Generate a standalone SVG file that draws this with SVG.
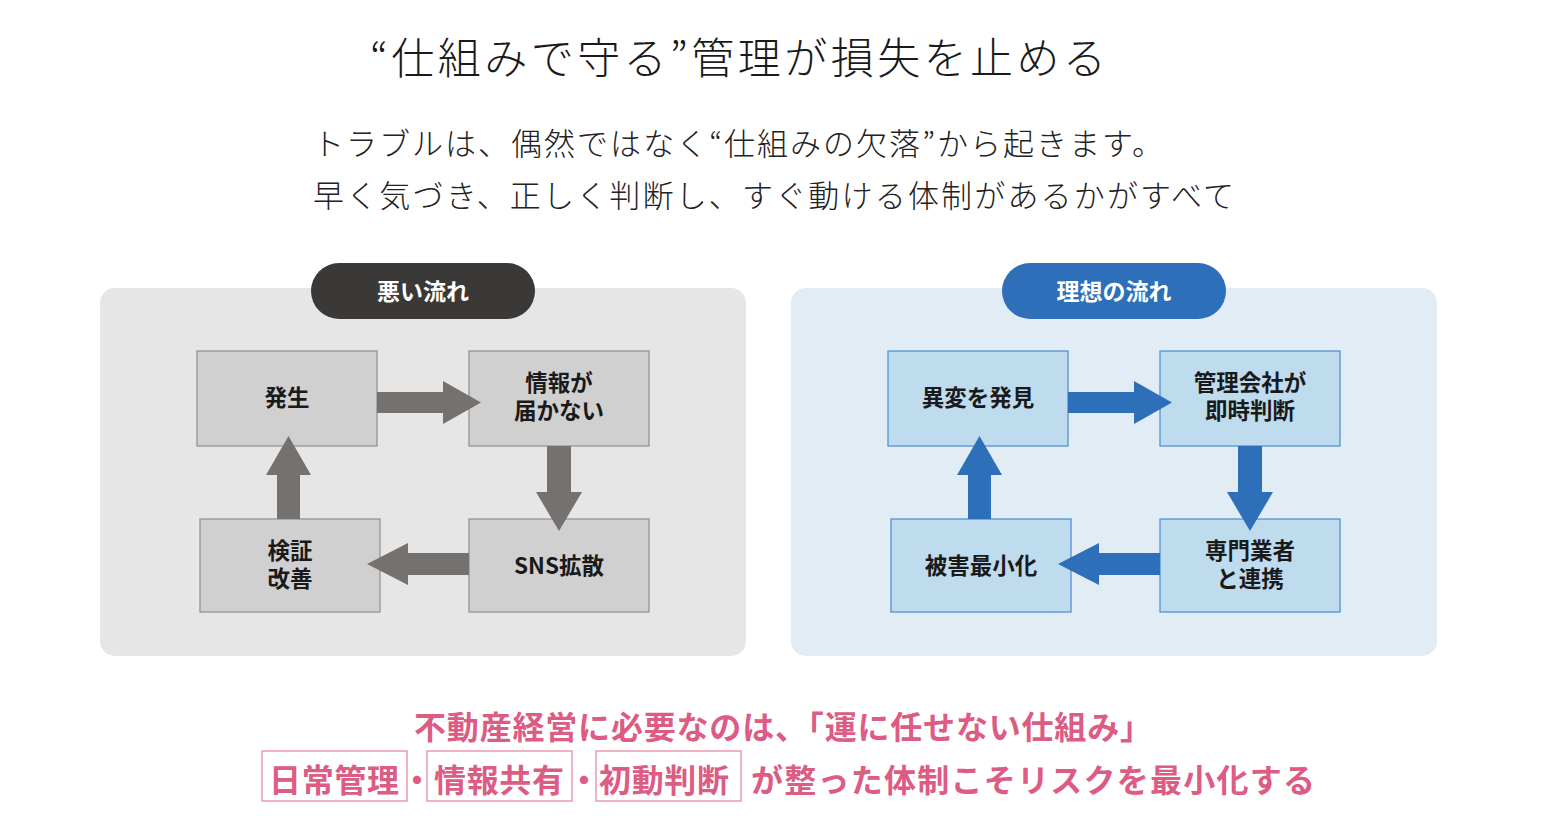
<svg xmlns="http://www.w3.org/2000/svg" width="1562" height="816" viewBox="0 0 1562 816">
<style>
  text { font-family: "Noto Sans CJK JP", "Noto Sans", sans-serif; }
  .title { font-size: 43px; font-weight: 300; fill: #1a1a1a; }
  .sub { font-size: 31px; font-weight: 300; fill: #222; }
  .pill { font-size: 23px; font-weight: 700; fill: #ffffff; text-anchor: middle; }
  .lbl { font-size: 22.5px; font-weight: 700; fill: #1a1a1a; text-anchor: middle; }
  .gbox { fill: #d1d0d1; stroke: #8f8e8e; stroke-width: 1.2; }
  .bbox { fill: #bedcee; stroke: #4a8ad0; stroke-width: 1.2; }
  .garr { fill: #75716f; }
  .barr { fill: #2d6fb8; }
  .pink { font-size: 32px; font-weight: 700; fill: #dc5c84; }
  .pbox { fill: none; stroke: #e48aa6; stroke-width: 1.3; }
</style>

<rect x="0" y="0" width="1562" height="816" fill="#ffffff"/>

<g id="header">
  <text class="title" x="370" y="74" textLength="736" lengthAdjust="spacing">“仕組みで守る”管理が損失を止める</text>
  <text class="sub" x="313" y="155" textLength="850" lengthAdjust="spacing">トラブルは、偶然ではなく“仕組みの欠落”から起きます。</text>
  <text class="sub" x="313" y="207" textLength="921" lengthAdjust="spacing">早く気づき、正しく判断し、すぐ動ける体制があるかがすべて</text>
</g>

<g id="panel-bad">
  <rect x="100" y="288" width="646" height="368" rx="15" fill="#e6e6e6"/>
  <rect x="311" y="263" width="224" height="56" rx="28" fill="#3b3937"/>
  <text class="pill" x="423" y="300">悪い流れ</text>
</g>

<g id="panel-ideal">
  <rect x="791" y="288" width="646" height="368" rx="15" fill="#e1ecf5"/>
  <rect x="1002" y="263" width="224" height="56" rx="28" fill="#2d6fb8"/>
  <text class="pill" x="1114" y="300">理想の流れ</text>
</g>

<g id="node-hassei">
  <rect class="gbox" x="197" y="351" width="180" height="95"/>
  <text class="lbl" x="287" y="406">発生</text>
</g>
<g id="node-joho">
  <rect class="gbox" x="469" y="351" width="180" height="95"/>
  <text class="lbl" x="559" y="391">情報が</text>
  <text class="lbl" x="559" y="419">届かない</text>
</g>
<g id="node-sns">
  <rect class="gbox" x="469" y="519" width="180" height="93"/>
  <text class="lbl" x="559" y="574">SNS拡散</text>
</g>
<g id="node-kensho">
  <rect class="gbox" x="200" y="519" width="180" height="93"/>
  <text class="lbl" x="290" y="559">検証</text>
  <text class="lbl" x="290" y="587">改善</text>
</g>

<g id="node-ihen">
  <rect class="bbox" x="888" y="351" width="180" height="95"/>
  <text class="lbl" x="978" y="406">異変を発見</text>
</g>
<g id="node-kanri">
  <rect class="bbox" x="1160" y="351" width="180" height="95"/>
  <text class="lbl" x="1250" y="391">管理会社が</text>
  <text class="lbl" x="1250" y="419">即時判断</text>
</g>
<g id="node-senmon">
  <rect class="bbox" x="1160" y="519" width="180" height="93"/>
  <text class="lbl" x="1250" y="559">専門業者</text>
  <text class="lbl" x="1250" y="587">と連携</text>
</g>
<g id="node-higai">
  <rect class="bbox" x="891" y="519" width="180" height="93"/>
  <text class="lbl" x="981" y="574">被害最小化</text>
</g>

<g id="connectors">
  <polygon class="garr" points="377,392 443,392 443,381 481,402.5 443,424 443,413 377,413"/>
  <polygon class="garr" points="547,446 571,446 571,492 582,492 559,531 536,492 547,492"/>
  <polygon class="garr" points="469,553 408,553 408,543 367,564 408,585 408,575 469,575"/>
  <polygon class="garr" points="277,519 277,475 266,475 288.5,436 311,475 300,475 300,519"/>
  <polygon class="barr" points="1068,392 1134,392 1134,381 1172,402.5 1134,424 1134,413 1068,413"/>
  <polygon class="barr" points="1238,446 1262,446 1262,492 1273,492 1250,531 1227,492 1238,492"/>
  <polygon class="barr" points="1160,553 1099,553 1099,543 1058,564 1099,585 1099,575 1160,575"/>
  <polygon class="barr" points="968,519 968,475 957,475 979.5,436 1002,475 991,475 991,519"/>
</g>

<g id="footer">
  <text class="pink" x="414" y="739" textLength="738" lengthAdjust="spacing">不動産経営に必要なのは、「運に任せない仕組み」</text>
  <rect class="pbox" x="262" y="751" width="145" height="50"/>
  <text class="pink" x="269" y="792" textLength="130" lengthAdjust="spacing">日常管理</text>
  <text class="pink" x="417" y="792" text-anchor="middle">・</text>
  <rect class="pbox" x="427" y="751" width="145" height="50"/>
  <text class="pink" x="434" y="792" textLength="130" lengthAdjust="spacing">情報共有</text>
  <text class="pink" x="584" y="792" text-anchor="middle">・</text>
  <rect class="pbox" x="596" y="751" width="145" height="50"/>
  <text class="pink" x="599" y="792" textLength="130" lengthAdjust="spacing">初動判断</text>
  <text class="pink" x="751" y="792" textLength="564" lengthAdjust="spacing">が整った体制こそリスクを最小化する</text>
</g>
</svg>
